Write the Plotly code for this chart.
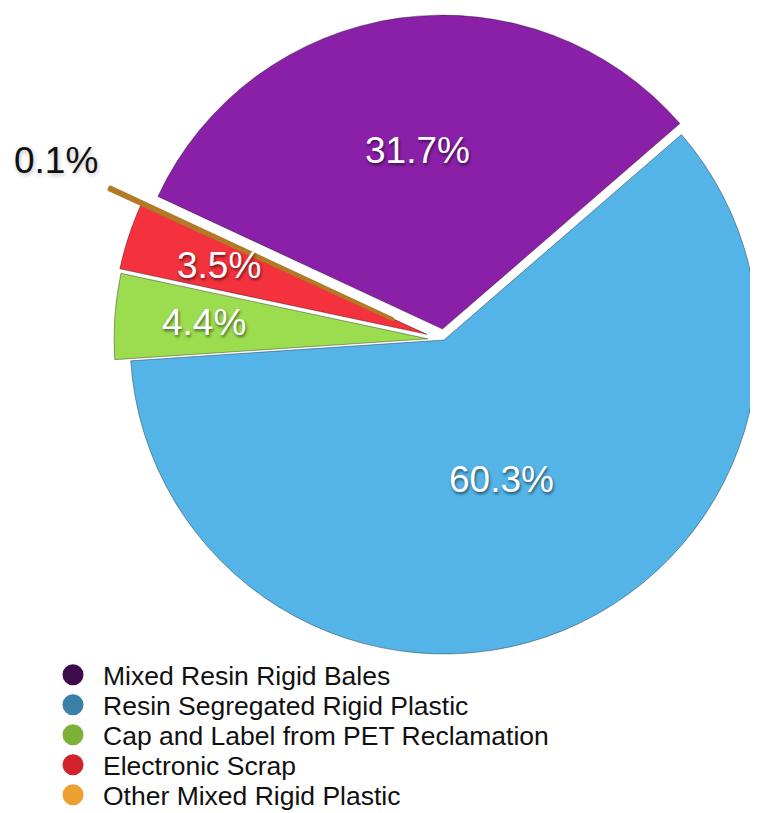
import math
import plotly.graph_objects as go

# ---------------- data ----------------
labels = [
    "Mixed Resin Rigid Bales",
    "Resin Segregated Rigid Plastic",
    "Cap and Label from PET Reclamation",
    "Electronic Scrap",
    "Other Mixed Rigid Plastic",
]
values = [31.7, 60.3, 4.4, 3.5, 0.1]
pct_text = ["31.7%", "60.3%", "4.4%", "3.5%", "0.1%"]

# ---------------- style ----------------
slice_colors = ["#8a1fa8", "#54b3e7", "#9cdc4f", "#f3323d", "#c98d2c"]
legend_colors = ["#3d0b4b", "#3a80a7", "#7db13a", "#d2232c", "#eda030"]
label_colors = ["white", "white", "white", "white", "#111111"]
label_shadows = ["1px 2px 3px rgba(0,0,0,0.55)"] * 4 + ["1px 2px 4px rgba(0,0,0,0.25)"]
edge_colors = ["rgba(0,0,0,0.35)"] * 4 + ["#b27a26"]
edge_widths = [1, 1, 1, 1, 4]

PAGE = 8                          # browser body margin around the figure
W, H = 758 - PAGE, 813 - PAGE     # figure size so it ends at the window edge
CX, CY, R = 444 - PAGE, 340 - PAGE, 314   # pie centre / radius in figure px
ROTATION = -65                    # start angle of first slice (clockwise from 12 o'clock)
pull_px = [11, 0, 16, 18, 57]     # explode distance of each slice
label_r = [0.61, 0.48, 0.765, 0.755, 1.36]
legend_rows = [y - PAGE for y in [675, 705, 735, 765, 795]]
LEGEND_X = 43 - PAGE
FONT = "Liberation Sans, Arial, sans-serif"

total = sum(values)
mids = []
a = ROTATION
for v in values:
    span = v / total * 360.0
    mids.append(a + span / 2.0)
    a += span

fig = go.Figure()

for k in range(len(values)):
    th = math.radians(mids[k])
    cx = CX + pull_px[k] * math.sin(th)
    cy = CY - pull_px[k] * math.cos(th)
    colors = ["rgba(0,0,0,0)"] * len(values)
    colors[k] = slice_colors[k]
    widths = [0] * len(values)
    widths[k] = edge_widths[k]
    lcols = ["rgba(0,0,0,0)"] * len(values)
    lcols[k] = edge_colors[k]
    fig.add_trace(go.Pie(
        labels=labels,
        values=values,
        sort=False,
        direction="clockwise",
        rotation=ROTATION,
        marker=dict(colors=colors, line=dict(color=lcols, width=widths)),
        textinfo="none",
        hoverinfo="label+percent",
        showlegend=False,
        domain=dict(
            x=[max(0.0, (cx - R) / W), min(1.0, (cx + R) / W)],
            y=[max(0.0, 1 - (cy + R) / H), min(1.0, 1 - (cy - R) / H)],
        ),
    ))

# legend entries (one legend per row so the row spacing matches)
legend_layout = {}
for k, (lab, col) in enumerate(zip(labels, legend_colors)):
    lname = "legend" if k == 0 else f"legend{k + 1}"
    fig.add_trace(go.Scatter(
        x=[None], y=[None], mode="markers", name=lab,
        marker=dict(size=16, color=col, symbol="circle", line=dict(color=col, width=5)),
        showlegend=True, legend=lname, hoverinfo="skip",
    ))
    legend_layout[lname] = dict(
        x=LEGEND_X / W, xanchor="left",
        y=1 - legend_rows[k] / H, yanchor="middle",
        bgcolor="rgba(0,0,0,0)", borderwidth=0,
        itemwidth=50,
        font=dict(family=FONT, size=26.5, color="#111111"),
    )

annotations = []
for k in range(len(values)):
    th = math.radians(mids[k])
    x = (CX + label_r[k] * R * math.sin(th)) / W
    y = 1 - (CY - label_r[k] * R * math.cos(th)) / H
    annotations.append(dict(
        x=x, y=y, xref="paper", yref="paper", showarrow=False,
        text=pct_text[k], xanchor="center", yanchor="middle",
        font=dict(family=FONT, size=37, color=label_colors[k], shadow=label_shadows[k]),
    ))

fig.update_layout(
    width=W, height=H,
    margin=dict(l=0, r=0, t=0, b=0, autoexpand=False),
    paper_bgcolor="white", plot_bgcolor="white",
    xaxis=dict(visible=False), yaxis=dict(visible=False),
    annotations=annotations,
    font=dict(family=FONT),
    **legend_layout,
)

fig.write_html("out.html")
